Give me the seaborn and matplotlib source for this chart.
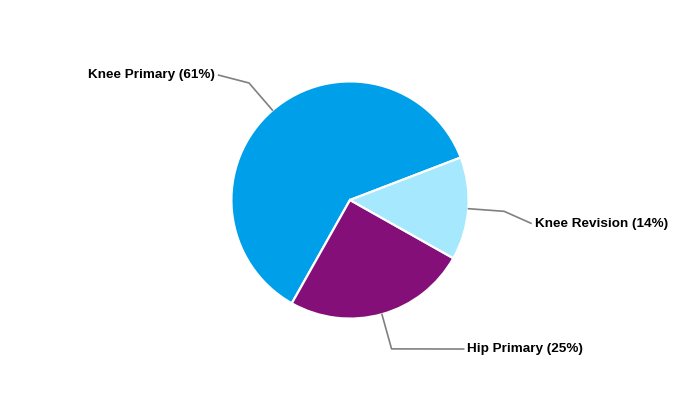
"""
Pie chart of procedure mix with elbow leader lines
"""

import numpy as np
import matplotlib
matplotlib.use('Agg')
import matplotlib.pyplot as plt
import seaborn as sns

# Data
categories = ['Knee Primary', 'Hip Primary', 'Knee Revision']
shares = [61, 25, 14]
colors = ['#009FE9', '#850F79', '#A6E8FD']

# Label placement (end of leader line, in pie-radius units) and alignment
label_end = [(-1.12, 1.06), (0.97, -1.263), (1.54, -0.20)]
label_ha = ['right', 'left', 'left']

sns.set_theme(style='white')
plt.rcParams['font.family'] = ['Liberation Sans', 'DejaVu Sans']

fig = plt.figure(figsize=(7, 4), dpi=100)
ax = fig.add_axes([0, 0, 1, 1])

wedges, _ = ax.pie(shares, colors=colors, startangle=21, counterclock=True,
                   radius=1.005, wedgeprops={'edgecolor': 'white', 'linewidth': 1.6})

# Leader lines: edge -> elbow along mid-angle -> label
for w, cat, val, (lx, ly), ha in zip(wedges, categories, shares, label_end, label_ha):
    mid = np.deg2rad((w.theta1 + w.theta2) / 2)
    x0, y0 = np.cos(mid), np.sin(mid)
    x1, y1 = 1.31 * np.cos(mid), 1.31 * np.sin(mid)
    ax.plot([x0, x1, lx], [y0, y1, ly], color='#808080', linewidth=1.2,
            solid_capstyle='butt')
    pad = 0.025 if ha == 'left' else -0.025
    ax.text(lx + pad, ly, f'{cat} ({val}%)', ha=ha, va='center',
            fontsize=9.7, fontweight='bold', color='black')

ax.set_xlim(-350 / 118, 350 / 118)
ax.set_ylim(-200 / 118, 200 / 118)
ax.set_aspect('auto')
ax.axis('off')

plt.savefig('out.png', dpi=100)
plt.close()
